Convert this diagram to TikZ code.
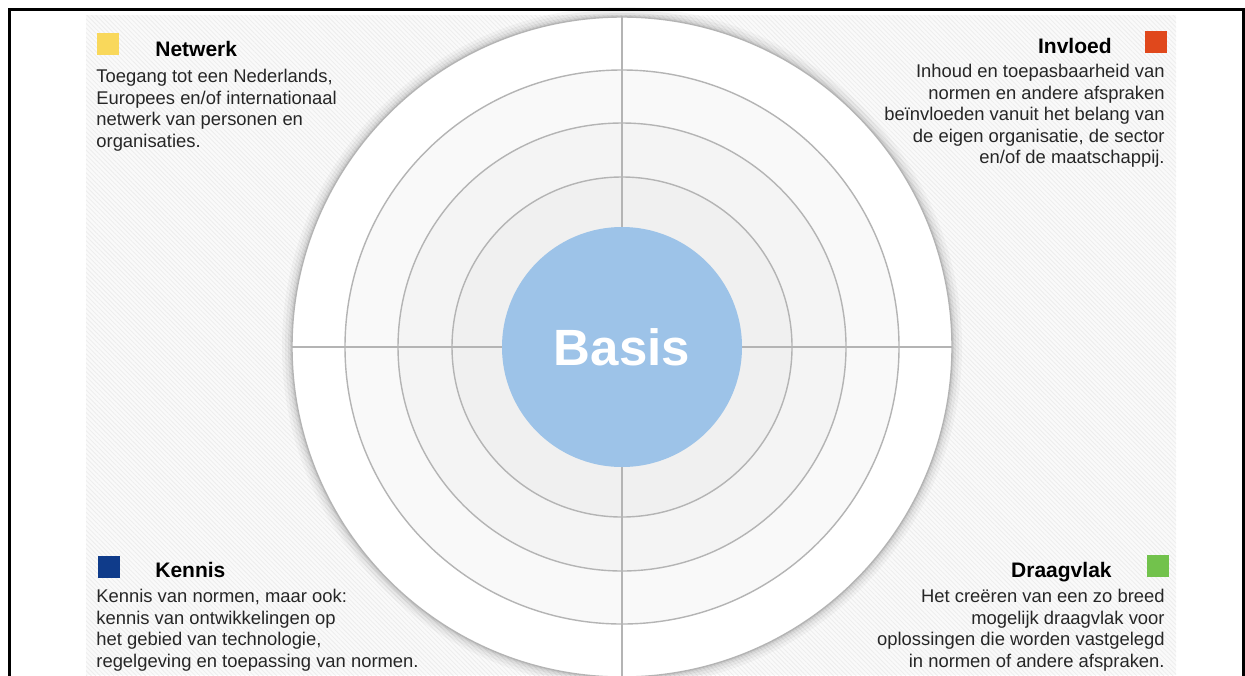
\documentclass[tikz,border=0pt]{standalone}
\usepackage{fontspec}
\setmainfont{Liberation Sans}
\usetikzlibrary{positioning,patterns.meta}

\definecolor{netwerkgeel}{HTML}{F9D85B}
\definecolor{invloedrood}{HTML}{E0481C}
\definecolor{kennisblauw}{HTML}{0F3B8A}
\definecolor{draagvlakgroen}{HTML}{72C24C}
\definecolor{basisblauw}{HTML}{9DC3E8}
\definecolor{ringlijn}{HTML}{B4B4B4}

\tikzset{
  legendsq/.style={minimum size=11pt, inner sep=0pt},
  kopje/.style={font=\fontsize{10.5}{12}\selectfont\bfseries, inner sep=0pt},
  tekst/.style={font=\fontsize{9.2}{10.75}\selectfont, inner sep=0pt, text=black!85},
  ring/.style={draw=ringlijn, line width=0.7pt},
}

\begin{document}
\begin{tikzpicture}[x=0.5pt,y=-0.5pt]
  \useasboundingbox (0,0) rectangle (1245,675);
  \clip (0,0) rectangle (1245,675);
  % achtergrond
  \fill[white] (0,0) rectangle (1245,675);
  \fill[gray!4] (86,15) rectangle (1176,675);
  \fill[pattern={Lines[angle=-45,distance=1.6pt,line width=0.4pt]}, pattern color=gray!14] (86,15) rectangle (1176,675);
  \draw[line width=1.5pt] (9,678) -- (9,9) -- (1243.5,9) -- (1243.5,678);

  % schaduw en ringen
  \foreach \r/\o in {340/0.03,337/0.04,334/0.05,332/0.06}
    \fill[black, opacity=\o] (622,347) circle (\r);
  \filldraw[ring, fill=white] (622,347) circle (330);
  \filldraw[ring, fill=gray!5] (622,347) circle (277);
  \filldraw[ring, fill=gray!9] (622,347) circle (224);
  \filldraw[ring, fill=gray!12] (622,347) circle (170);
  \draw[ringlijn, line width=1pt] (622,16) -- (622,680);
  \draw[ringlijn, line width=1pt] (292,347) -- (952,347);

  \node[circle, fill=basisblauw, minimum size=120pt, inner sep=0pt, text=white,
        font=\fontsize{25.5}{30}\selectfont\bfseries] (basis) at (622,347) {Basis};

  % legenda
  \node[legendsq, fill=netwerkgeel] (sqN) at (107.5,44) {};
  \node[legendsq, fill=invloedrood] (sqI) at (1156,42) {};
  \node[legendsq, fill=kennisblauw] (sqK) at (108.5,566.5) {};
  \node[legendsq, fill=draagvlakgroen] (sqD) at (1157.5,566) {};

  \node[kopje, anchor=base west] (tNetwerk) at (155,56) {Netwerk};
  \node[kopje, anchor=base east] (tInvloed) at (1112,53) {Invloed};
  \node[kopje, anchor=base west] (tKennis) at (155,577) {Kennis};
  \node[kopje, anchor=base east] (tDraagvlak) at (1112,577) {Draagvlak};

  \node[tekst, anchor=north west, align=left] (bNetwerk) at (96,69)
    {Toegang tot een Nederlands,\\Europees en/of internationaal\\netwerk van personen en\\organisaties.};
  \node[tekst, anchor=north east, align=right] (bInvloed) at (1165,64)
    {Inhoud en toepasbaarheid van\\normen en andere afspraken\\beïnvloeden vanuit het belang van\\de eigen organisatie, de sector\\en/of de maatschappij.};
  \node[tekst, anchor=north west, align=left] (bKennis) at (96,589)
    {Kennis van normen, maar ook:\\kennis van ontwikkelingen op\\het gebied van technologie,\\regelgeving en toepassing van normen.};
  \node[tekst, anchor=north east, align=right] (bDraagvlak) at (1165,589)
    {Het creëren van een zo breed\\mogelijk draagvlak voor\\oplossingen die worden vastgelegd\\in normen of andere afspraken.};
\end{tikzpicture}
\end{document}
